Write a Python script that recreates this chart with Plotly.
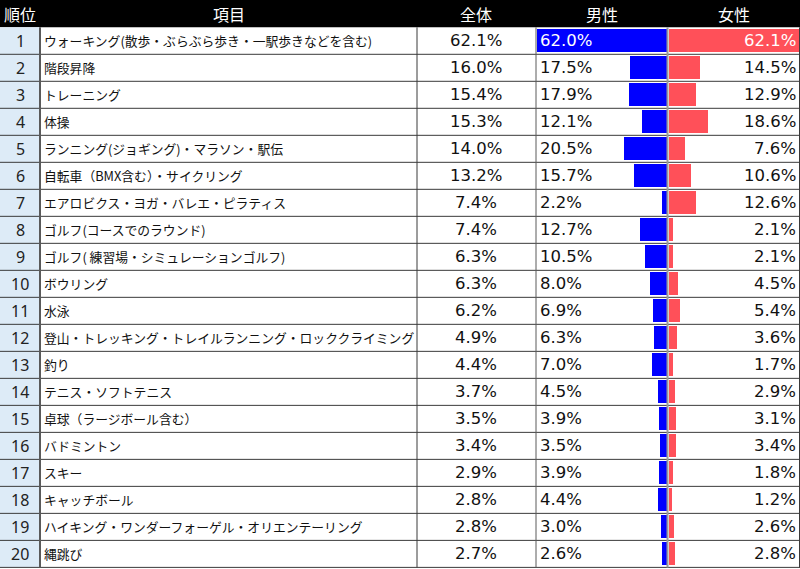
import plotly.graph_objs as go

# table data
ranks = list(range(1, 21))
items = [
    "ウォーキング(散歩・ぶらぶら歩き・一駅歩きなどを含む)",
    "階段昇降",
    "トレーニング",
    "体操",
    "ランニング(ジョギング)・マラソン・駅伝",
    "自転車（BMX含む）・サイクリング",
    "エアロビクス・ヨガ・バレエ・ピラティス",
    "ゴルフ(コースでのラウンド)",
    "ゴルフ(\u00a0練習場・シミュレーションゴルフ)",
    "ボウリング",
    "水泳",
    "登山・トレッキング・トレイルランニング・ロッククライミング",
    "釣り",
    "テニス・ソフトテニス",
    "卓球（ラージボール含む）",
    "バドミントン",
    "スキー",
    "キャッチボール",
    "ハイキング・ワンダーフォーゲル・オリエンテーリング",
    "縄跳び",
]
total = [62.1, 16.0, 15.4, 15.3, 14.0, 13.2, 7.4, 7.4, 6.3, 6.3,
         6.2, 4.9, 4.4, 3.7, 3.5, 3.4, 2.9, 2.8, 2.8, 2.7]
male = [62.0, 17.5, 17.9, 12.1, 20.5, 15.7, 2.2, 12.7, 10.5, 8.0,
        6.9, 6.3, 7.0, 4.5, 3.9, 3.5, 3.9, 4.4, 3.0, 2.6]
female = [62.1, 14.5, 12.9, 18.6, 7.6, 10.6, 12.6, 2.1, 2.1, 4.5,
          5.4, 3.6, 1.7, 2.9, 3.1, 3.4, 1.8, 1.2, 2.6, 2.8]
headers = ["順位", "項目", "全体", "男性", "女性"]

W, H = 800, 569
# column edges in pixels
col_edges = [0, 40, 417, 536, 667.5, 800]
JP = "Noto Sans CJK JP"
NUM = "DejaVu Sans"
BLUE = "#0000FF"
RED = "#FF5059"
BAR_MAX = 62.5


def px(x):
    return x / W


fig = go.Figure()

# men bars grow leftwards from the divider
fig.add_trace(go.Bar(
    y=ranks, x=male, orientation="h", xaxis="x", yaxis="y",
    marker=dict(color=BLUE, line=dict(width=0)), width=0.86,
    hoverinfo="skip", showlegend=False,
))
# women bars grow rightwards
fig.add_trace(go.Bar(
    y=ranks, x=female, orientation="h", xaxis="x2", yaxis="y",
    marker=dict(color=RED, line=dict(width=0)), width=0.86,
    hoverinfo="skip", showlegend=False,
))

shapes = []
# header background
shapes.append(dict(type="rect", xref="paper", yref="y", x0=0, x1=1,
                   y0=-0.6, y1=0.5, fillcolor="black", line=dict(width=0),
                   layer="below"))
# rank column background
shapes.append(dict(type="rect", xref="paper", yref="y", x0=0, x1=px(col_edges[1]),
                   y0=0.5, y1=len(ranks) + 0.5, fillcolor="#DDEBF7",
                   line=dict(width=0), layer="below"))
# horizontal row lines
for r in ranks:
    shapes.append(dict(type="line", xref="paper", yref="y", x0=0, x1=1,
                       y0=r + 0.5, y1=r + 0.5,
                       line=dict(color="#3a3a3a", width=1), layer="above"))
# vertical column lines
vstyle = {40: ("#5a5a5a", 2), 417: ("#3a3a3a", 1), 536: ("#5a5a5a", 1),
          667.5: ("#9a9a9a", 2), 800: ("#3a3a3a", 1)}
for xe, (c, w) in vstyle.items():
    shapes.append(dict(type="line", xref="paper", yref="y",
                       x0=px(min(xe, 799.5)), x1=px(min(xe, 799.5)),
                       y0=0.5, y1=len(ranks) + 0.5,
                       line=dict(color=c, width=w), layer="above"))

ann = []
# header labels
for i, h in enumerate(headers):
    cx = (col_edges[i] + col_edges[i + 1]) / 2
    ann.append(dict(text=h, xref="paper", yref="y", x=px(cx), y=0,
                    xanchor="center", yanchor="middle", showarrow=False,
                    font=dict(family=JP, size=16, color="white")))

for i, r in enumerate(ranks):
    ann.append(dict(text=str(r), xref="paper", yref="y", x=px(20), y=r,
                    xanchor="center", yanchor="middle", showarrow=False,
                    font=dict(family="Noto Sans", size=16, color="#222")))
    ann.append(dict(text=items[i], xref="paper", yref="y", x=px(42), y=r,
                    xanchor="left", yanchor="middle", showarrow=False,
                    font=dict(family=JP, size=12.8, color="#111")))
    ann.append(dict(text=f"{total[i]:.1f}%", xref="paper", yref="y",
                    x=px((417 + 536) / 2), y=r,
                    xanchor="center", yanchor="middle", showarrow=False,
                    font=dict(family=NUM, size=16.5, color="#111")))
    # first row bar covers the cell, so the label turns white
    tc = "white" if male[i] > 50 else "#111"
    ann.append(dict(text=f"{male[i]:.1f}%", xref="paper", yref="y", x=px(538), y=r,
                    xanchor="left", yanchor="middle", showarrow=False,
                    font=dict(family=NUM, size=16.5, color=tc)))
    tc = "white" if female[i] > 50 else "#111"
    ann.append(dict(text=f"{female[i]:.1f}%", xref="paper", yref="y", x=px(798), y=r,
                    xanchor="right", yanchor="middle", showarrow=False,
                    font=dict(family=NUM, size=16.5, color=tc)))

fig.update_layout(
    width=W, height=H,
    margin=dict(l=0, r=0, t=0, b=0),
    paper_bgcolor="white", plot_bgcolor="rgba(0,0,0,0)",
    xaxis=dict(domain=[px(536), px(667)], range=[BAR_MAX, 0], visible=False,
               fixedrange=True),
    xaxis2=dict(domain=[px(668.5), 1], range=[0, BAR_MAX], visible=False,
                anchor="y", fixedrange=True),
    yaxis=dict(range=[20.56, -0.511], visible=False, fixedrange=True),
    shapes=shapes,
    annotations=ann,
    bargap=0,
)

fig.write_html("out.html", config={"displayModeBar": False},
               post_script="document.body.style.margin='0';document.body.style.overflow='hidden';")
